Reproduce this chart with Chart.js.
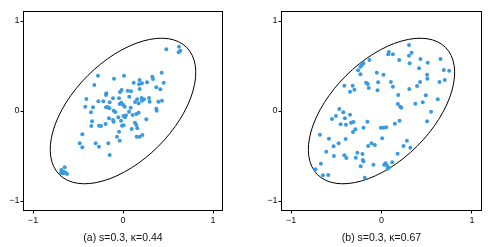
<!DOCTYPE html>
<html>
<head>
<meta charset="utf-8">
<script src="https://cdn.jsdelivr.net/npm/chart.js@4.4.1/dist/chart.umd.min.js"></script>
<style>
  html, body { margin: 0; padding: 0; background: #fff; }
  #wrap { position: relative; width: 492px; height: 247px; overflow: hidden; }
  .panel { position: absolute; top: 0; width: 246px; height: 247px; }
</style>
</head>
<body>
<div id="wrap">
  <div class="panel" style="left:0"><canvas id="ca" width="246" height="247"></canvas></div>
  <div class="panel" style="left:246px"><canvas id="cb" width="246" height="247"></canvas></div>
</div>
<script>
// ---- data ----
const TICKS = [-1, 0, 1];
const CAPTION_A = "(a) s=0.3, \u03BA=0.44";
const CAPTION_B = "(b) s=0.3, \u03BA=0.67";

// ellipse (data units)
const ELLIPSE_CENTER = [0, 0];
const ELLIPSE_A = 1.0;
const ELLIPSE_B = 0.555;
const ELLIPSE_ANGLE = 45;

const aX = [0.481,0.622,0.637,0.619,-0.278,0.011,-0.100,0.430,0.326,0.333,0.452,0.185,0.178,0.267,0.211,0.119,-0.319,0.185,0.370,0.415,-0.015,-0.033,0.052,0.089,-0.407,-0.185,-0.189,-0.111,-0.274,-0.219,-0.148,-0.044,0.070,0.207,0.211,0.289,0.296,0.433,0.393,0.370,0.374,0.156,0.133,0.174,0.233,-0.037,-0.019,0.000,-0.333,-0.419,-0.356,-0.170,-0.189,-0.152,-0.104,-0.085,0.019,0.085,0.067,0.107,0.148,0.174,0.033,-0.052,-0.344,-0.352,-0.267,-0.244,-0.193,-0.104,-0.111,0.004,0.022,-0.156,-0.022,-0.011,0.007,0.133,0.148,0.096,0.159,0.259,-0.044,0.152,0.185,0.215,-0.452,-0.067,-0.037,-0.481,-0.452,-0.304,-0.267,-0.163,-0.148,-0.648,-0.685,-0.667,-0.622,-0.659,-0.690,-0.640];
const aY = [0.685,0.715,0.670,0.652,0.393,0.393,0.359,0.426,0.381,0.356,0.315,0.344,0.296,0.319,0.307,0.315,0.289,0.244,0.263,0.241,0.233,0.211,0.226,0.219,0.133,0.196,0.178,0.141,0.107,0.107,0.096,0.141,0.159,0.144,0.115,0.144,0.104,0.115,0.104,0.026,0.004,0.130,0.100,0.085,0.130,0.078,0.093,0.070,0.041,0.048,-0.015,0.044,0.041,0.030,0.004,-0.011,0.048,0.037,-0.007,-0.044,-0.033,-0.019,-0.048,-0.070,-0.115,-0.167,-0.163,-0.167,-0.144,-0.119,-0.100,-0.056,-0.070,-0.081,-0.107,-0.163,-0.159,-0.130,-0.156,-0.200,-0.193,-0.093,-0.230,-0.285,-0.285,-0.267,-0.259,-0.285,-0.330,-0.359,-0.404,-0.359,-0.396,-0.359,-0.489,-0.626,-0.656,-0.693,-0.700,-0.674,-0.690,-0.685];

const bX = [0.304,0.081,0.126,0.074,0.333,0.304,0.196,0.430,0.652,-0.133,-0.200,-0.219,-0.233,0.311,0.511,-0.259,-0.233,-0.052,0.022,0.415,0.504,0.507,0.689,0.748,0.641,0.700,0.104,-0.037,0.126,-0.170,-0.152,-0.141,0.426,0.393,0.307,-0.044,-0.411,-0.319,-0.348,-0.300,0.185,0.489,0.622,0.456,0.374,0.181,0.207,0.219,0.548,0.504,-0.467,-0.422,-0.504,-0.548,-0.404,-0.348,-0.452,-0.393,-0.337,-0.311,-0.156,0.200,0.148,-0.007,0.022,0.052,-0.200,-0.289,-0.315,-0.681,-0.581,-0.396,-0.474,-0.530,0.007,-0.111,-0.074,0.281,0.244,0.319,-0.611,-0.526,-0.411,-0.389,-0.267,-0.285,-0.211,-0.207,-0.200,-0.230,-0.089,-0.148,0.178,0.119,0.044,0.059,0.067,0.030,0.081,-0.670,-0.730,-0.648,-0.589,-0.185];
const bY = [0.733,0.656,0.630,0.630,0.648,0.615,0.567,0.578,0.578,0.567,0.530,0.507,0.493,0.530,0.537,0.452,0.407,0.426,0.404,0.474,0.404,0.359,0.456,0.448,0.322,0.344,0.322,0.319,0.270,0.315,0.300,0.256,0.322,0.278,0.244,0.230,0.281,0.281,0.215,0.237,0.178,0.174,0.130,0.096,0.081,0.078,0.048,0.037,-0.007,-0.115,0.022,-0.015,-0.056,-0.089,-0.081,-0.041,-0.148,-0.152,-0.130,-0.122,-0.119,-0.107,-0.141,-0.185,-0.185,-0.181,-0.185,-0.204,-0.233,-0.263,-0.307,-0.311,-0.359,-0.393,-0.304,-0.359,-0.378,-0.330,-0.389,-0.407,-0.452,-0.500,-0.493,-0.522,-0.463,-0.519,-0.478,-0.544,-0.559,-0.615,-0.596,-0.389,-0.474,-0.570,-0.581,-0.604,-0.641,-0.596,-0.630,-0.585,-0.648,-0.715,-0.711,-0.741];

// ---- drawing ----
const FONT = "'Liberation Sans', Arial, Helvetica, sans-serif";
const POINT_COLOR = '#3a9ae0';

const ellipsePlugin = {
  id: 'ellipseOverlay',
  beforeDatasetsDraw(chart) {
    const { ctx, scales: { x, y } } = chart;
    const cx = x.getPixelForValue(ELLIPSE_CENTER[0]);
    const cy = y.getPixelForValue(ELLIPSE_CENTER[1]);
    const sx = x.getPixelForValue(1) - x.getPixelForValue(0);
    const sy = y.getPixelForValue(0) - y.getPixelForValue(1);
    ctx.save();
    ctx.beginPath();
    ctx.translate(cx, cy);
    ctx.scale(sx, -sy);
    ctx.rotate(ELLIPSE_ANGLE * Math.PI / 180);
    ctx.ellipse(0, 0, ELLIPSE_A, ELLIPSE_B, 0, 0, 2 * Math.PI);
    ctx.restore();
    ctx.save();
    ctx.strokeStyle = '#000';
    ctx.lineWidth = 1;
    ctx.stroke();
    ctx.restore();
  }
};

const framePlugin = {
  id: 'frame',
  afterDraw(chart) {
    const { ctx, chartArea: a } = chart;
    ctx.save();
    ctx.strokeStyle = '#000';
    ctx.lineWidth = 1;
    ctx.strokeRect(Math.round(a.left) - 0.5, Math.round(a.top) - 0.5,
                   Math.round(a.right - a.left) + 1, Math.round(a.bottom - a.top) + 1);
    ctx.restore();
  }
};

function fmt(v) { return v < 0 ? '\u2212' + Math.abs(v) : String(v); }

function makeChart(id, xs, ys, caption, leftW, rightPad) {
  const pts = xs.map((x, i) => ({ x: x, y: ys[i] }));
  const tickCfg = {
    padding: 2, color: '#111', maxRotation: 0,
    font: { family: FONT, size: 9 },
    callback: fmt
  };
  const gridCfg = { drawOnChartArea: false, drawTicks: true, tickLength: 3.5, color: '#000', lineWidth: 1 };
  return new Chart(document.getElementById(id), {
    type: 'scatter',
    data: { datasets: [{ data: pts, backgroundColor: POINT_COLOR, borderWidth: 0,
                         pointRadius: 2, pointHoverRadius: 2 }] },
    options: {
      responsive: false, animation: false, devicePixelRatio: 1,
      layout: { padding: { left: 0, right: rightPad, top: 12, bottom: 0 } },
      plugins: { legend: { display: false }, tooltip: { enabled: false } },
      scales: {
        x: {
          type: 'linear', min: -1.1, max: 1.1,
          afterBuildTicks: s => { s.ticks = TICKS.map(v => ({ value: v })); },
          afterFit: s => { s.height = 37; },
          grid: gridCfg, border: { display: false },
          ticks: tickCfg,
          title: { display: true, text: caption, color: '#111',
                   font: { family: FONT, size: 10.5 }, padding: { top: 0, bottom: 3 } }
        },
        y: {
          type: 'linear', min: -1.1, max: 1.1,
          afterBuildTicks: s => { s.ticks = TICKS.map(v => ({ value: v })); },
          afterFit: s => { s.width = leftW; },
          grid: gridCfg, border: { display: false },
          ticks: Object.assign({}, tickCfg, { padding: 1 })
        }
      }
    },
    plugins: [ellipsePlugin, framePlugin]
  });
}

makeChart('ca', aX, aY, CAPTION_A, 24, 24);
makeChart('cb', bX, bY, CAPTION_B, 36, 11);
</script>
</body>
</html>
